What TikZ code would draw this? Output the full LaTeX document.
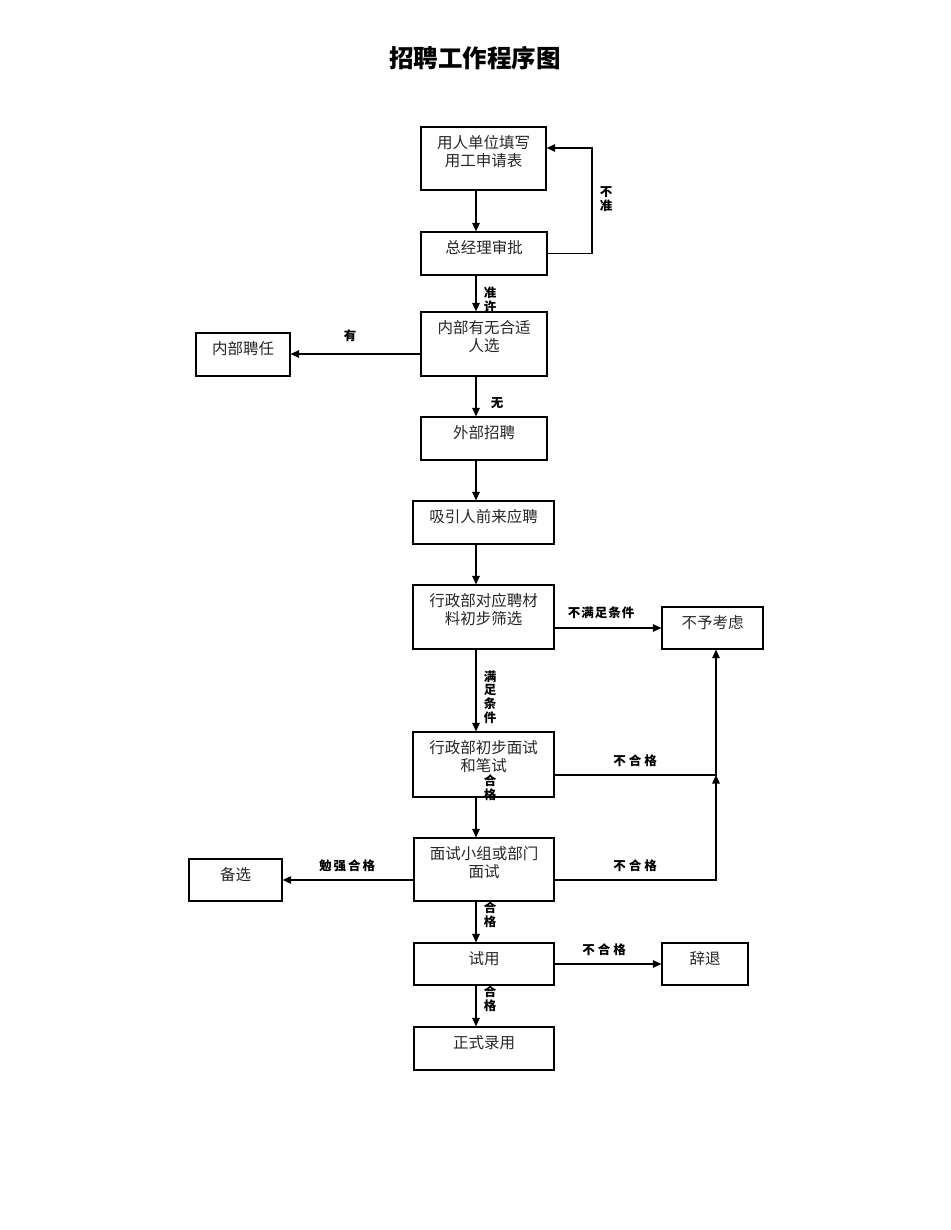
\documentclass[tikz,border=0pt]{standalone}
\usepackage{fontspec}
\newfontfamily\cjk{Noto Sans CJK SC}
\usetikzlibrary{arrows.meta}
\tikzset{
  box/.style={draw, line width=1.2pt, rectangle, inner sep=0pt},
  txt/.style={anchor=north, yshift=-8.5pt, inner sep=0pt, align=center,
    font=\cjk\fontsize{15.5}{18}\selectfont, text=black!85},
  arr/.style={line width=1.2pt, -{Triangle[length=8.5pt,width=7.5pt]}},
  lab/.style={inner sep=0pt, align=center, font=\cjk\bfseries\fontsize{12.5}{13.8}\selectfont},
}
\begin{document}
\begin{tikzpicture}[x=1pt,y=-1pt]
\useasboundingbox (0,0) rectangle (950,1230);
\node[font=\cjk\bfseries\fontsize{24.5}{26}\selectfont] (title) at (475,58) {招聘工作程序图};

\node[box, minimum width=125, minimum height=63, label={[txt]north:用人单位填写\\用工申请表}] (n1) at (483.5,158.5) {};
\node[box, minimum width=126, minimum height=43, label={[txt]north:总经理审批}] (n2) at (484,253.5) {};
\node[box, minimum width=126, minimum height=64, label={[txt]north:内部有无合适\\人选}] (n3) at (484,344) {};
\node[box, minimum width=94, minimum height=43, label={[txt]north:内部聘任}] (n4) at (243,354.5) {};
\node[box, minimum width=126, minimum height=43, label={[txt]north:外部招聘}] (n5) at (484,438.5) {};
\node[box, minimum width=141, minimum height=43, label={[txt]north:吸引人前来应聘}] (n6) at (483.5,522.5) {};
\node[box, minimum width=141, minimum height=64, label={[txt]north:行政部对应聘材\\料初步筛选}] (n7) at (483.5,617) {};
\node[box, minimum width=101, minimum height=42, label={[txt]north:不予考虑}] (n8) at (712.5,628) {};
\node[box, minimum width=141, minimum height=65, label={[txt]north:行政部初步面试\\和笔试}] (n9) at (483.5,764.5) {};
\node[box, minimum width=140, minimum height=63, label={[txt]north:面试小组或部门\\面试}] (n10) at (484,869.5) {};
\node[box, minimum width=93, minimum height=42, label={[txt]north:备选}] (n11) at (235.5,880) {};
\node[box, minimum width=140, minimum height=42, label={[txt]north:试用}] (n12) at (484,964) {};
\node[box, minimum width=86, minimum height=42, label={[txt]north:辞退}] (n13) at (705,964) {};
\node[box, minimum width=140, minimum height=43, label={[txt]north:正式录用}] (n14) at (484,1048.5) {};

\coordinate (vx) at (476,0);
\coordinate (k1) at (592,148);
\coordinate (h3) at (0,354);
\coordinate (c9) at (716,775);
\coordinate (c10) at (716,880);

% vertical main flow
\draw[arr] (n1.south -| vx) -- (n2.north -| vx);
\draw[arr] (n2.south -| vx) -- (n3.north -| vx);
\draw[arr] (n3.south -| vx) -- (n5.north -| vx);
\draw[arr] (n5.south -| vx) -- (n6.north -| vx);
\draw[arr] (n6.south -| vx) -- (n7.north -| vx);
\draw[arr] (n7.south -| vx) -- (n9.north -| vx);
\draw[arr] (n9.south -| vx) -- (n10.north -| vx);
\draw[arr] (n10.south -| vx) -- (n12.north -| vx);
\draw[arr] (n12.south -| vx) -- (n14.north -| vx);

% side connectors
\draw[arr] (n2.east) -| (k1) -- (k1 -| n1.east);
\draw[arr] (n3.west |- h3) -- (n4.east |- h3);
\draw[arr] (n7.east |- n8.west) -- (n8.west);
\draw[arr] (n9.east |- c9) -- (c9) -- (c9 |- n8.south);
\draw[arr] (n10.east |- c10) -- (c10) -- (c9);
\draw[arr] (n10.west |- c10) -- (n11.east |- c10);
\draw[arr] (n12.east) -- (n13.west);

% labels
\node[lab] (l1) at (606,199) {不\\准};
\node[lab] (l2) at (490,300) {准\\许};
\node[lab] (l3) at (350,336) {有};
\node[lab] (l4) at (497,403) {无};
\node[lab] (l5) at (601,613) {不\hspace{1pt}满\hspace{1pt}足\hspace{1pt}条\hspace{1pt}件};
\node[lab] (l6) at (490,697) {满\\足\\条\\件};
\node[lab] (l7) at (635,761) {不\hspace{3pt}合\hspace{3pt}格};
\node[lab] (l8) at (490,788) {合\\格};
\node[lab] (l9) at (347,866) {勉\hspace{2pt}强\hspace{2pt}合\hspace{2pt}格};
\node[lab] (l10) at (635,866) {不\hspace{3pt}合\hspace{3pt}格};
\node[lab] (l11) at (490,915) {合\\格};
\node[lab] (l12) at (604,950) {不\hspace{3pt}合\hspace{3pt}格};
\node[lab] (l13) at (490,999) {合\\格};
\end{tikzpicture}
\end{document}
